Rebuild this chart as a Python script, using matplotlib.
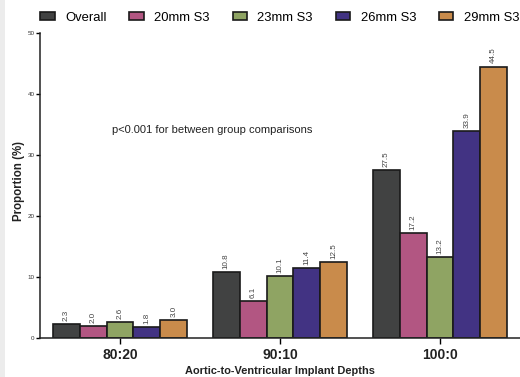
import matplotlib
matplotlib.use("Agg")
import matplotlib.pyplot as plt
import numpy as np
from matplotlib.patches import Rectangle

plt.rcParams['font.family'] = ['Liberation Sans', 'DejaVu Sans']

categories = ["80:20", "90:10", "100:0"]
series_names = ["Overall", "20mm S3", "23mm S3", "26mm S3", "29mm S3"]
overall = [2.3, 10.8, 27.5]
s20 = [2.0, 6.1, 17.2]
s23 = [2.6, 10.1, 13.2]
s26 = [1.8, 11.4, 33.9]
s29 = [3.0, 12.5, 44.5]
colors = ["#414242", "#b25682", "#8fa463", "#423383", "#c98b4b"]
yticks = [0, 10, 20, 30, 40, 50]

fig = plt.figure(figsize=(5.2, 3.77), dpi=100)
fig.patches.append(Rectangle((0, 0), 5/520, 1, transform=fig.transFigure,
                             facecolor="#ececec", edgecolor="none", zorder=-1))
ax = fig.add_axes([0.077, 0.1034, 0.923, 0.8091])

x = np.arange(len(categories))
w = 0.168
all_series = [overall, s20, s23, s26, s29]
handles = []
for i, (vals, c, name) in enumerate(zip(all_series, colors, series_names)):
    pos = x + (i - 2) * w
    b = ax.bar(pos, vals, width=w, color=c, edgecolor="#1a1a1a", linewidth=1.2, label=name)
    handles.append(b)
    for p, v in zip(pos, vals):
        ax.text(p, v + 0.5, f"{v:.1f}", rotation=90, ha="center", va="bottom",
                fontsize=5.8, color="#444444")

ax.set_xlim(-0.5, 2.5)
ax.set_ylim(0, 50)
ax.set_yticks(yticks)
ax.set_yticklabels([str(t) for t in yticks], fontsize=4.5, color="#333333")
ax.set_xticks(x)
ax.set_xticklabels(categories, fontsize=10, fontweight="bold", color="#222222")
ax.tick_params(axis="y", length=3, width=1, pad=1)
ax.tick_params(axis="x", length=4, width=1, pad=3)
for s in ["top", "right"]:
    ax.spines[s].set_visible(False)
for s in ["left", "bottom"]:
    ax.spines[s].set_linewidth(1.1)
    ax.spines[s].set_color("#222222")

ax.set_ylabel("Proportion (%)", fontsize=8.3, fontweight="bold", color="#222222")
ax.yaxis.set_label_coords(-0.031, 0.515)
ax.set_xlabel("Aortic-to-Ventricular Implant Depths", fontsize=7.9, fontweight="bold",
              labelpad=3, color="#222222")

ax.text(-0.05, 34.1, "p<0.001 for between group comparisons", fontsize=8, color="#222222",
        va="center", ha="left")

fig.legend(handles=handles, labels=series_names, loc="upper center", ncol=5,
           bbox_to_anchor=(0.538, 1.0), frameon=False, fontsize=9.4,
           handlelength=1.1, handleheight=0.6, columnspacing=1.75, handletextpad=0.8)

fig.savefig("out.png", dpi=100)
